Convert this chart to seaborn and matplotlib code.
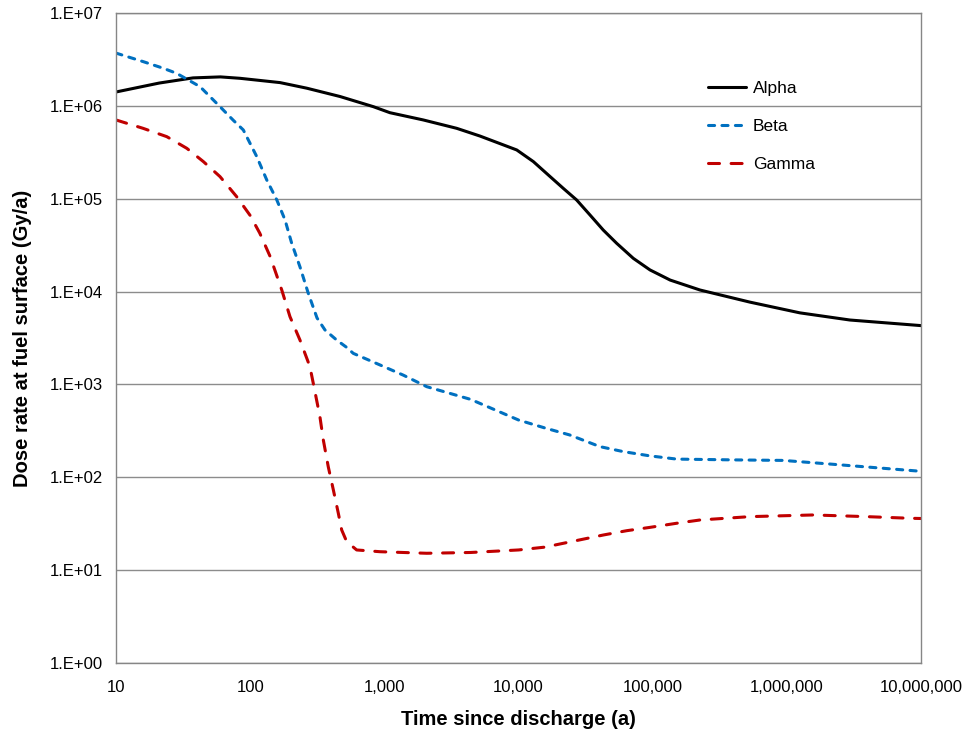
import numpy as np
import pandas as pd
import matplotlib
matplotlib.use("Agg")
import matplotlib.pyplot as plt
import seaborn as sns
from matplotlib.ticker import FuncFormatter, LogLocator, NullLocator

# values (time in years, dose rate in Gy/a)
alpha_t = [10, 21, 37.5, 60, 84, 167, 264, 468, 828, 1100, 1950, 3460, 5160,
           9700, 12900, 17200, 21600, 27100, 34100, 42800, 53900, 71700,
           95500, 1.35e5, 2.25e5, 5.3e5, 1.25e6, 2.95e6, 1e7]
alpha_dose = [1.41e6, 1.76e6, 2.0e6, 2.05e6, 1.98e6, 1.78e6, 1.55e6, 1.26e6,
              9.8e5, 8.44e5, 7.05e5, 5.73e5, 4.73e5, 3.35e5, 2.51e5, 1.73e5,
              1.29e5, 9.7e4, 6.68e4, 4.6e4, 3.31e4, 2.28e4, 1.71e4, 1.33e4, 1.04e4,
              7.7e3, 5.9e3, 4.94e3, 4.3e3]

beta_t = [10, 16, 22.5, 28.3, 42.3, 59.6, 74.8, 88.9, 112, 133, 158, 182, 204, 235,
          271, 315, 361, 442, 525, 587, 929, 1383, 2070, 4400, 10000, 15700, 24000,
          40400, 60400, 95500, 1.51e5, 4.0e5, 9.4e5, 2.22e6, 9.3e6, 1e7]
beta_dose = [3.7e6, 2.99e6, 2.54e6, 2.24e6, 1.61e6, 9.8e5, 7.0e5, 5.5e5, 2.84e5,
             1.59e5, 9.7e4, 5.9e4, 3.31e4, 1.85e4, 9.6e3, 5.2e3, 3.86e3, 3.0e3,
             2.5e3, 2.16e3, 1.62e3, 1.26e3, 946, 690, 414, 340, 286, 214, 189,
             170, 157, 154, 152, 138, 117, 115]

gamma_t = [10, 15.9, 23.9, 33.7, 44.8, 59.6, 79.4, 100, 118, 141, 172, 198, 235,
           279, 304, 331, 351, 382, 417, 454, 481, 524, 622, 929, 2070, 4400,
           10000, 15700, 24000, 42800, 64000, 95500, 1.51e5, 2.25e5, 5.3e5,
           1.57e6, 3.93e6, 8.3e6, 1e7]
gamma_dose = [7.05e5, 5.73e5, 4.66e5, 3.49e5, 2.51e5, 1.73e5, 1.05e5, 6.6e4, 4.25e4,
              2.38e4, 1.04e4, 5.37e3, 3.01e3, 1.55e3, 836, 450, 252, 130, 73, 41,
              27.1, 20.3, 16.5, 15.8, 15.2, 15.5, 16.5, 17.7, 20.1, 23.9, 26.6,
              28.9, 32, 34.7, 37.7, 39.3, 37.7, 36.2, 36]

df = pd.DataFrame({
    "t": alpha_t + beta_t + gamma_t,
    "dose": alpha_dose + beta_dose + gamma_dose,
    "series": ["Alpha"] * len(alpha_t) + ["Beta"] * len(beta_t) + ["Gamma"] * len(gamma_t),
})

sns.set_style("white")
plt.rcParams["font.family"] = ["Liberation Sans", "DejaVu Sans"]
plt.rcParams["text.color"] = "black"
plt.rcParams["axes.labelcolor"] = "black"
plt.rcParams["xtick.color"] = "black"
plt.rcParams["ytick.color"] = "black"

fig = plt.figure(figsize=(9.73, 7.38), dpi=100)
ax = fig.add_axes([0.1192, 0.1016, 0.8274, 0.8808])

palette = {"Alpha": "#000000", "Beta": "#0070C0", "Gamma": "#C00000"}
dashes = {"Alpha": "", "Beta": (2.0, 2.4), "Gamma": (3.6, 3.8)}
sns.lineplot(data=df, x="t", y="dose", hue="series", style="series",
             palette=palette, dashes=dashes, linewidth=2.2, sort=False,
             estimator=None, ax=ax, dash_capstyle="round")

ax.set_xscale("log")
ax.set_yscale("log")
ax.set_xlim(10, 1e7)
ax.set_ylim(1, 1e7)

ax.xaxis.set_major_locator(LogLocator(base=10, numticks=10))
ax.yaxis.set_major_locator(LogLocator(base=10, numticks=10))
ax.xaxis.set_minor_locator(NullLocator())
ax.yaxis.set_minor_locator(NullLocator())
ax.xaxis.set_major_formatter(FuncFormatter(lambda v, p: f"{int(round(v)):,}"))
ax.yaxis.set_major_formatter(FuncFormatter(lambda v, p: f"1.E+{int(round(np.log10(v))):02d}"))

ax.grid(axis="y", color="#8c8c8c", linewidth=1.0)
ax.grid(axis="x", visible=False)
for s in ax.spines.values():
    s.set_color("#868686")
    s.set_linewidth(1.0)
ax.tick_params(axis="both", which="major", direction="out", length=4.5, width=1,
               color="#868686", labelsize=12, labelcolor="black")
ax.tick_params(axis="x", pad=8)
ax.tick_params(axis="y", pad=5)

ax.set_xlabel("Time since discharge (a)", fontsize=14.5, fontweight="bold")
ax.set_ylabel("Dose rate at fuel surface (Gy/a)", fontsize=14.5, fontweight="bold")
ax.xaxis.set_label_coords(0.5, -0.072)
ax.yaxis.set_label_coords(-0.104, 0.5)

leg = ax.legend(loc="upper left", bbox_to_anchor=(0.7155, 0.92), frameon=False,
                fontsize=12.5, handlelength=2.2, handletextpad=0.4, labelspacing=1.32)
for h in leg.get_lines():
    h.set_linewidth(2.2)

fig.savefig("out.png", dpi=100)
